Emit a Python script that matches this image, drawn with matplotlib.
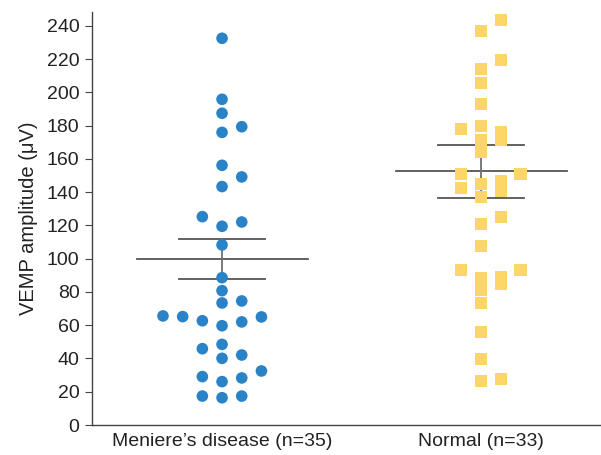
import matplotlib
matplotlib.use("Agg")
import matplotlib.pyplot as plt
import numpy as np

plt.rcParams['font.family'] = ['Liberation Sans', 'DejaVu Sans']

# groups and amplitudes (uV)
groups = ["Meniere\u2019s disease (n=35)", "Normal (n=33)"]

meniere = [232.6, 195.9, 187.5, 179.4, 176.0, 156.2, 149.2, 143.4, 125.3, 122.1,
           119.5, 108.3, 88.6, 80.8, 74.6, 73.4, 65.6, 65.2, 65.0, 62.7, 62.0,
           59.7, 48.5, 45.9, 42.1, 40.1, 32.5, 29.1, 28.3, 26.1, 17.4, 17.4, 16.4]

normal = [243.6, 237.2, 219.5, 214.1, 205.7, 193.1, 179.9, 178.0, 176.0, 171.6,
          171.4, 164.4, 151.2, 150.8, 146.8, 145.1, 142.8, 140.8, 137.3, 125.1,
          121.1, 107.7, 93.2, 93.2, 89.0, 88.4, 84.8, 81.2, 73.4, 55.9, 39.7,
          27.7, 26.5]

# mean and SEM as drawn
means = [100.0, 152.5]
sems = [12.0, 16.0]

colors = ["#2b83c7", "#fed568"]
markers = ["o", "s"]
sizes = [70, 76]


def swarm(vals, h=7.0, step=0.076):
    # bin sorted values into rows and spread each row sideways
    v = np.sort(np.asarray(vals, dtype=float))
    offs = np.zeros(len(v))
    order = [0, 1, -1, 2, -2, -3, 3, -4, 4]
    i = 0
    while i < len(v):
        j = i
        while j < len(v) and v[j] - v[i] <= h:
            j += 1
        for k in range(i, j):
            offs[k] = order[k - i] * step
        i = j
    return v, offs


fig = plt.figure(figsize=(6.01, 4.55), dpi=100)
ax = fig.add_axes([92 / 601, 30 / 455, 508 / 601, 413 / 455])

for i, vals in enumerate([meniere, normal]):
    m, s = means[i], sems[i]
    ax.plot([i - 0.33, i + 0.33], [m, m], color="#555555", lw=1.3, zorder=1)
    ax.plot([i - 0.165, i + 0.165], [m + s, m + s], color="#555555", lw=1.3, zorder=1)
    ax.plot([i - 0.165, i + 0.165], [m - s, m - s], color="#555555", lw=1.3, zorder=1)
    ax.plot([i, i], [m - s, m + s], color="#707070", lw=1.3, zorder=1)

    v, off = swarm(vals)
    ax.scatter(i + off, v, s=sizes[i], marker=markers[i], color=colors[i],
               edgecolors="none", zorder=3)

ax.set_xlim(-0.502, 1.459)
ax.set_ylim(0, 248.4)
ax.set_yticks(np.arange(0, 241, 20))
ax.set_xticks([0, 1])
ax.set_xticklabels(groups)

for side in ["top", "right"]:
    ax.spines[side].set_visible(False)
for side in ["left", "bottom"]:
    ax.spines[side].set_color("#444444")
    ax.spines[side].set_linewidth(1.0)

ax.tick_params(axis="x", length=0, pad=6, labelsize=14, colors="#222222")
ax.tick_params(axis="y", length=5, width=0.8, pad=4, labelsize=14,
               color="#444444", labelcolor="#222222")
ax.set_ylabel("VEMP amplitude (\u03bcV)", fontsize=14.5, color="#222222", labelpad=6)

fig.savefig("out.png", dpi=100)
